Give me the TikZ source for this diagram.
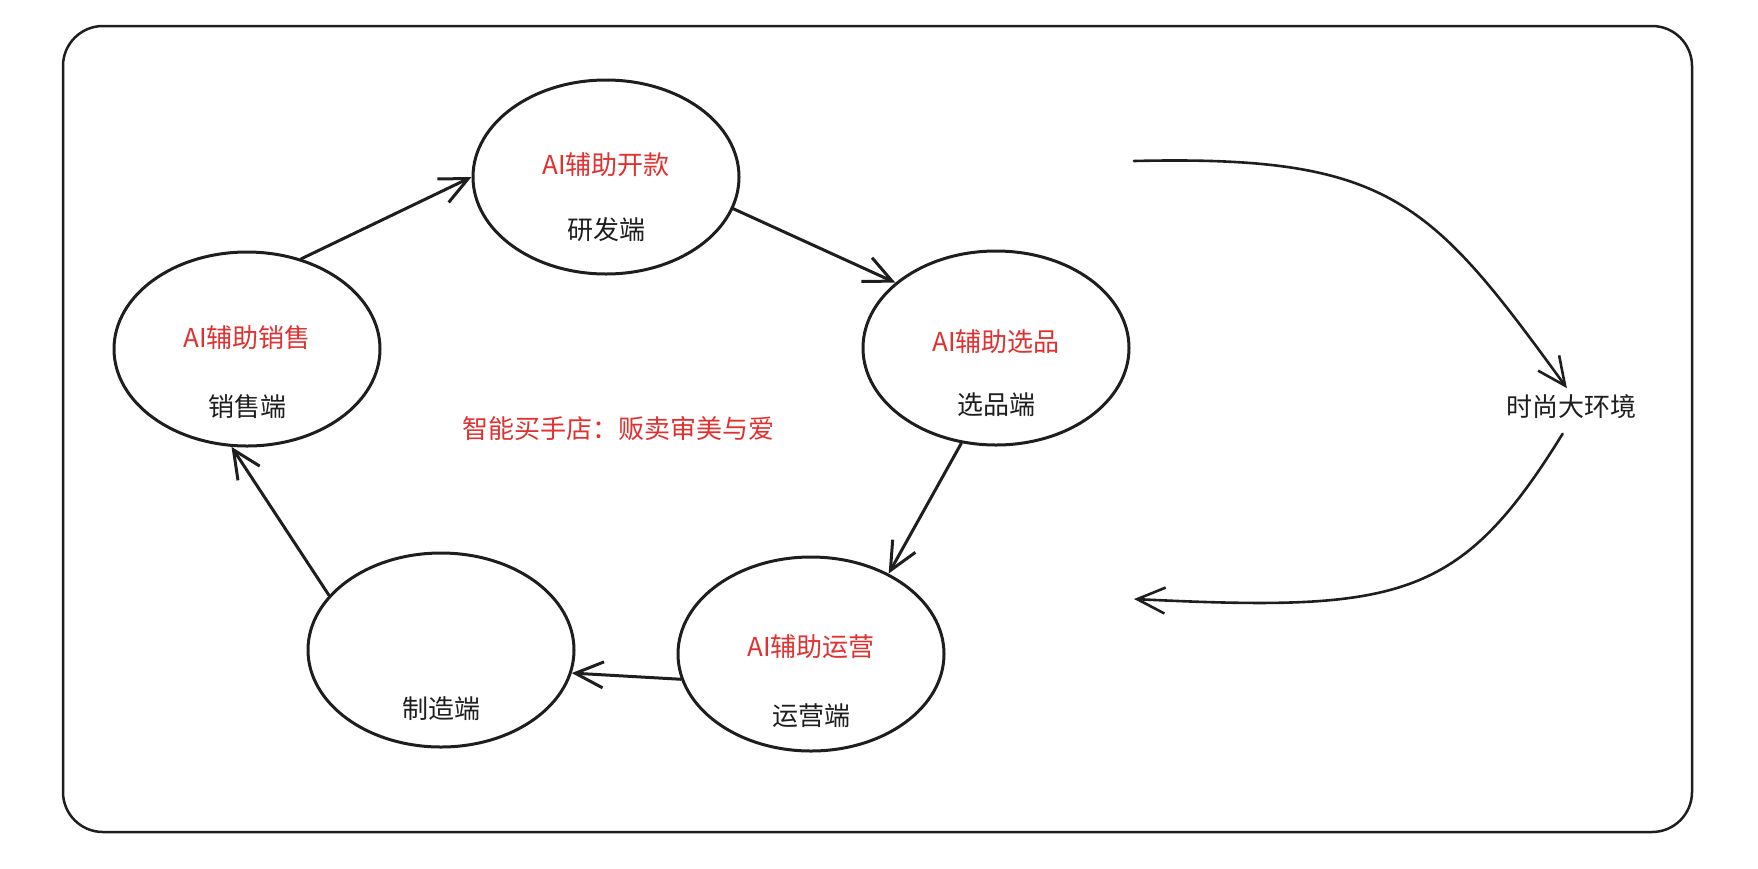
\documentclass[tikz,border=0pt]{standalone}
\usepackage{fontspec}
\newfontfamily\cjk{Noto Sans CJK SC}
\usepackage{xcolor}
\definecolor{aired}{RGB}{224,49,49}
\definecolor{inkblack}{RGB}{30,30,30}
\usepackage{tikz}
\usetikzlibrary{arrows.meta}
\usetikzlibrary{shapes.geometric}
\newcommand{\widthstage}{266pt}
\newcommand{\heightstage}{194pt}
\tikzset{
    common/.style={font=\cjk\fontsize{26}{30}\selectfont, inner sep=0pt, text height=22pt, text depth=4pt},
    ai/.style={common, text=aired},
    side/.style={common, text=inkblack},
    stage/.style={draw=inkblack, ellipse, line width=3pt, minimum width=\widthstage, minimum height=\heightstage, inner sep=0pt},
    flow/.style={draw=inkblack, line width=3pt, line cap=round, line join=round, -{Straight Barb[length=28pt, width=26pt]}},
    trend/.style={flow, line width=2.6pt},
    frame/.style={draw=inkblack, line width=2.5pt, rounded corners=40pt}
}

\begin{document}
\begin{tikzpicture}[x=1pt, y=-1pt]
    \useasboundingbox (0,0) rectangle (1758,868);
    \draw[frame] (63,26) rectangle (1692,832);

    \path
        (606,177) node[stage] (dev) {}
        (247,349) node[stage] (sale) {}
        (996,348) node[stage] (sel) {}
        (441,650) node[stage] (mfg) {}
        (811,654) node[stage] (ops) {};

    \path (dev) +(0,-12) node[ai] (dev-ai) {AI辅助开款} +(0,53) node[side] (dev-side) {研发端};
    \path (sale) +(0,-11) node[ai] (sale-ai) {AI辅助销售} +(0,58) node[side] (sale-side) {销售端};
    \path (sel) +(0,-6) node[ai] (sel-ai) {AI辅助选品} +(0,57) node[side] (sel-side) {选品端};
    \path (mfg) +(0,59) node[side] (mfg-side) {制造端};
    \path (ops) +(0,-7) node[ai] (ops-ai) {AI辅助运营} +(0,62) node[side] (ops-side) {运营端};

    \path (618,429) node[ai] (shop) {智能买手店：贩卖审美与爱};
    \path (1571,407) node[side] (env) {时尚大环境};

    \draw[flow] (sale.59) -- (dev.180);
    \draw[flow] (dev.-14) -- (sel.147);
    \draw[flow] (sel.250) -- (ops.46);
    \draw[flow] (ops.191) -- (mfg.-10);
    \draw[flow] (mfg.154) -- (sale.261);

    \coordinate (trend-in) at (1134,161);
    \coordinate (trend-out) at (1134,599);
    \draw[trend, shorten >=7pt] (trend-in) .. controls (1390,155) and (1430,200) .. (env.north);
    \draw[trend, shorten <=16pt] (env.south) .. controls (1460,600) and (1400,612) .. (trend-out);
\end{tikzpicture}
\end{document}
